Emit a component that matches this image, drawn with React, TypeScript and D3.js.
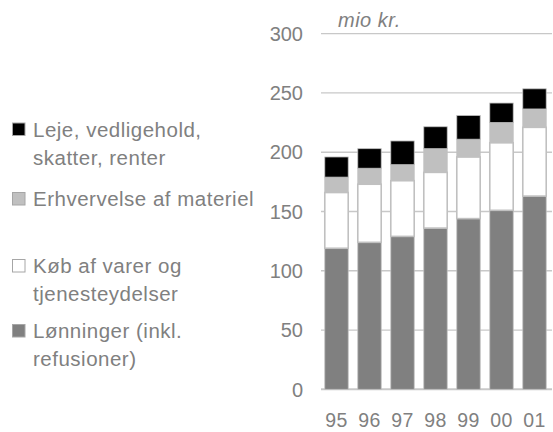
import React from "react";
import * as d3 from "d3";

const years = ["95", "96", "97", "98", "99", "00", "01"];
const lonninger = [119, 124, 129, 136, 144, 151, 163];
const kob = [47, 49, 47, 47, 52, 57, 58];
const erhvervelse = [13, 13.5, 13.5, 20, 15, 17, 15.5];
const leje = [17, 16.5, 20, 18.5, 20, 16.5, 17];
const yTicks = [0, 50, 100, 150, 200, 250, 300];

const seriesKeys = ["lonninger", "kob", "erhvervelse", "leje"];
const seriesFill: Record<string, string> = {
  lonninger: "#808080",
  kob: "#ffffff",
  erhvervelse: "#c0c0c0",
  leje: "#000000",
};

const legendItems = [
  { key: "leje", lines: ["Leje, vedligehold,", "skatter, renter"], base: 136.5 },
  { key: "erhvervelse", lines: ["Erhvervelse af materiel"], base: 206 },
  { key: "kob", lines: ["Køb af varer og", "tjenesteydelser"], base: 273 },
  { key: "lonninger", lines: ["Lønninger (inkl.", "refusioner)"], base: 338 },
];

export default function App() {
  const W = 553;
  const H = 432;
  const table = years.map((y, i) => ({
    year: y,
    lonninger: lonninger[i],
    kob: kob[i],
    erhvervelse: erhvervelse[i],
    leje: leje[i],
  }));
  const stack = d3.stack<any>().keys(seriesKeys)(table);
  const x = d3.scaleBand<string>().domain(years).range([320, 551]).paddingInner(0.29).paddingOuter(0.145);
  const y = d3.scaleLinear().domain([0, 300]).range([389.3, 33.7]);
  const font = "'Liberation Sans', Arial, sans-serif";
  const textCol = "#808080";

  return (
    <svg width={W} height={H} style={{ position: "absolute", left: 0, top: 0, background: "#fff" }}>
      {yTicks.map((t) => (
        <g key={t}>
          <line x1={321} x2={552} y1={y(t)} y2={y(t)} stroke="#c8c8c8" strokeWidth={t === 0 ? 2 : 1.3} />
          <text x={303} y={y(t)} dy="0.36em" textAnchor="end" fontFamily={font} fontSize={20} fill={textCol}>
            {t}
          </text>
        </g>
      ))}
      <text x={338} y={27} fontFamily={font} fontSize={20} fontStyle="italic" fill={textCol} letterSpacing={0.5}>
        mio kr.
      </text>
      {stack.map((s) => (
        <g key={s.key}>
          {s.map((d, i) => (
            <rect
              key={i}
              x={x(years[i])!}
              width={x.bandwidth()}
              y={y(d[1])}
              height={y(d[0]) - y(d[1])}
              fill={seriesFill[s.key]}
              stroke="#c0c0c0"
              strokeWidth={s.key === "kob" ? 1.6 : 0.8}
            />
          ))}
        </g>
      ))}
      {years.map((yr) => (
        <text key={yr} x={x(yr)! + x.bandwidth() / 2} y={427} textAnchor="middle" fontFamily={font} fontSize={19.5} fill={textCol} letterSpacing={0.3}>
          {yr}
        </text>
      ))}
      {legendItems.map((it) => (
        <g key={it.key}>
          <rect x={12.5} y={it.base - 13.5} width={12.5} height={12.5} fill={seriesFill[it.key]} stroke="#a6a6a6" strokeWidth={1} />
          {it.lines.map((ln, j) => (
            <text key={j} x={33} y={it.base + j * 28} fontFamily={font} fontSize={20.5} fill={textCol} letterSpacing={0.5}>
              {ln}
            </text>
          ))}
        </g>
      ))}
    </svg>
  );
}
